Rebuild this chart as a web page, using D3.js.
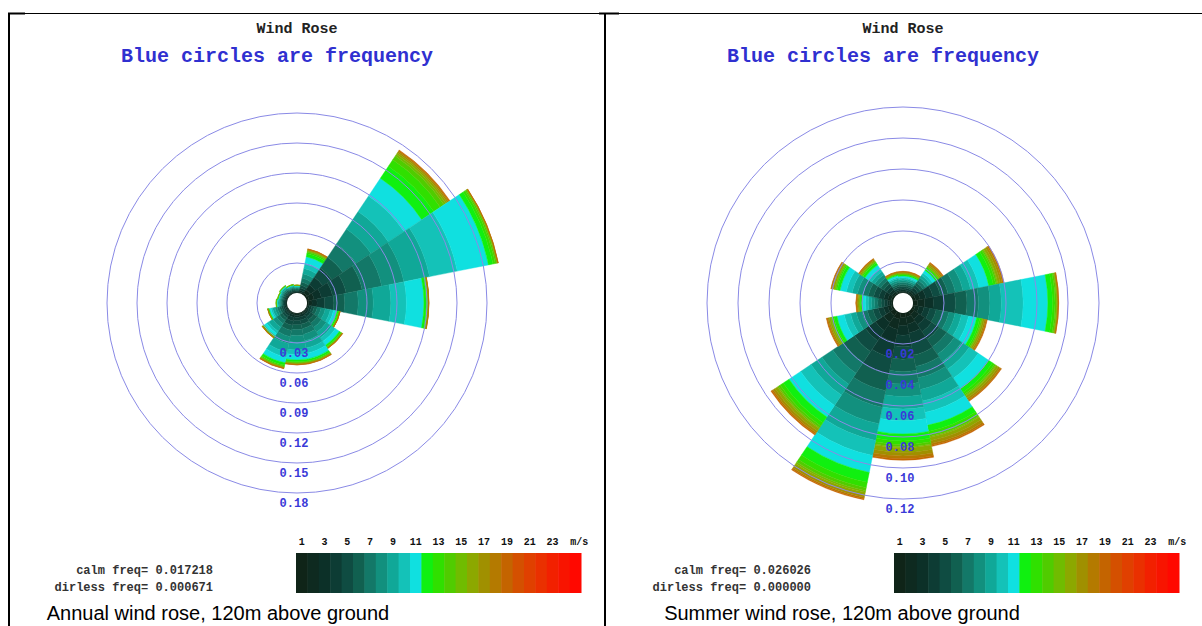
<!DOCTYPE html>
<html>
<head>
<meta charset="utf-8">
<script src="https://cdn.jsdelivr.net/npm/d3@7"></script>
<style>
body { margin: 0; background: #fff; }
svg { display: block; }
</style>
</head>
<body>
<svg id="chart" width="1202" height="626"></svg>
<script>
var directions = ["N", "NNE", "NE", "ENE", "E", "ESE", "SE", "SSE",
                  "S", "SSW", "SW", "WSW", "W", "WNW", "NW", "NNW"];

// 25 one m/s speed bins, 0-1 ... 24-25
var binColors = ["#0f2418", "#0e2a20", "#0c3028", "#0d3c34", "#0f4c42", "#116050",
                 "#137868", "#12907e", "#10a898", "#14c2b8", "#10e0e0",
                 "#10f010", "#30e000", "#50cc00", "#70bc00", "#8ca800", "#a09000",
                 "#b47a00", "#c46400", "#d45000", "#e04000", "#ea3000", "#f22000",
                 "#f81400", "#ff0800"];
var speedTicks = [1, 3, 5, 7, 9, 11, 13, 15, 17, 19, 21, 23];

// frequency per direction and speed bin, in thousandths
var annualFreq = [
    [0.3, 0.5, 0.6, 0.8, 0.9, 0.9, 0.9, 0.8, 0.8, 0.4, 0.4, 0.3, 0.1, 0.1, 0, 0.1, 0.1],
    [0.5, 1, 1.5, 2.3, 2.8, 3.3, 4, 4.5, 5.3, 5.6, 6.4, 3, 1.6, 0.9, 0.5, 0.7, 0.6, 0.4, 0.3],
    [2, 4, 6, 9, 11, 13, 16, 18, 21, 18.8, 21.2, 14.5, 7.8, 4.4, 2.3, 1.8, 1.5, 1, 0.7],
    [2.5, 5, 7.5, 11.3, 13.8, 16.3, 20, 22.5, 26.3, 28.2, 31.8, 4.5, 2.4, 1.4, 0.7, 0.4, 0.3, 0.2, 0.1],
    [1.7, 3.4, 5, 7.6, 9.2, 10.9, 13.4, 15.1, 17.6, 15.5, 17.5, 2.3, 1.2, 0.7, 0.3, 0.2, 0.1, 0.1, 0.1],
    [0.5, 1, 1.4, 2.2, 2.6, 3.1, 3.8, 4.3, 5.1, 3.3, 3.7, 1.3, 0.7, 0.3, 0.2, 0.2, 0.1, 0.1, 0.1],
    [0.6, 1.3, 1.9, 2.9, 3.5, 4.2, 5.1, 5.8, 6.7, 4.2, 4.8, 1.5, 0.8, 0.5, 0.2, 0.4, 0.3, 0.2, 0.1],
    [0.7, 1.4, 2.2, 3.2, 4, 4.7, 5.8, 6.5, 7.5, 5.2, 5.8, 1.8, 0.9, 0.5, 0.3, 0.5, 0.5, 0.3, 0.2],
    [0.7, 1.5, 2.2, 3.3, 4.1, 4.8, 5.9, 6.7, 7.8, 4.7, 5.3, 1.8, 0.9, 0.5, 0.3, 0.5, 0.5, 0.3, 0.2],
    [0.8, 1.6, 2.4, 3.6, 4.4, 5.2, 6.4, 7.2, 8.4, 5.2, 5.8, 2.3, 1.2, 0.7, 0.3, 0.5, 0.5, 0.3, 0.2],
    [0.6, 1.1, 1.5, 2.2, 2.6, 3.1, 3.8, 4.2, 4.9, 2.6, 2.9, 0.9, 0.5, 0.3, 0.1, 0.3, 0.2, 0.1, 0.1],
    [0.5, 0.9, 1.2, 1.6, 1.8, 2, 2.3, 2.3, 2.4, 1.6, 1.9, 0.6, 0.3, 0.1, 0.1, 0.2, 0.1, 0.1],
    [0.4, 0.7, 0.9, 1.1, 1.2, 1.2, 1.2, 1.1, 1.2, 0.6, 0.7, 0.3, 0.2, 0.1, 0, 0.1],
    [0.4, 0.7, 0.9, 1, 1.1, 1.1, 1.1, 1, 0.9, 0.6, 0.6, 0.3, 0.1, 0.1, 0, 0.1],
    [0.4, 0.7, 0.9, 1.1, 1.2, 1.2, 1.2, 1.1, 1.2, 0.6, 0.7, 0.3, 0.2, 0.1, 0, 0.1],
    [0.4, 0.6, 0.8, 0.9, 1, 1, 1, 0.9, 0.8, 0.5, 0.5, 0.3, 0.1, 0.1, 0, 0.1]
];

var summerFreq = [
    [0.5, 0.7, 0.9, 1.1, 1.2, 1.2, 1.2, 1.1, 1.1, 0.9, 1.1, 0.8, 0.4, 0.2, 0.1, 0.5, 0.5, 0.3, 0.2],
    [0.5, 0.7, 0.9, 1.1, 1.2, 1.2, 1.2, 1.1, 1.1, 0.9, 1.1, 0.8, 0.4, 0.2, 0.1, 0.5, 0.5, 0.3, 0.2],
    [0.8, 1.2, 1.5, 1.8, 2, 2, 1.9, 1.9, 1.9, 1.9, 2.1, 1.5, 0.8, 0.5, 0.2, 1.1, 0.9, 0.6, 0.4],
    [1.9, 3, 3.8, 4.6, 4.9, 4.9, 4.9, 5, 5, 5.6, 6.4, 3, 1.6, 0.9, 0.5, 1.5, 1.3, 0.8, 0.4],
    [2.9, 4.6, 5.7, 6.8, 7.4, 7.4, 7.4, 7.4, 7.4, 14.1, 15.9, 3, 1.6, 0.9, 0.5, 0.4, 0.3, 0.2, 0.1],
    [1.6, 2.6, 3.2, 3.8, 4.2, 4.2, 4.1, 4.1, 4.2, 4.7, 5.3, 2, 1.1, 0.6, 0.3, 1.1, 0.9, 0.6, 0.4],
    [2.3, 3.6, 4.5, 5.4, 5.8, 5.9, 5.8, 5.8, 5.9, 7, 8, 3, 1.6, 0.9, 0.5, 1.5, 1.3, 0.8, 0.4],
    [2.9, 4.6, 5.8, 7, 7.5, 7.5, 7.5, 7.6, 7.6, 7.5, 8.5, 4, 2.2, 1.2, 0.6, 2.2, 1.8, 1.3, 0.7],
    [3.1, 5, 6.2, 7.4, 8.1, 8, 8, 8.1, 8.1, 7.5, 8.5, 4.5, 2.4, 1.4, 0.7, 2.9, 2.4, 1.7, 1],
    [4.2, 6.7, 8.4, 10.1, 10.9, 10.9, 10.9, 10.9, 11, 9.9, 11.1, 6.5, 3.5, 2, 1, 1.8, 1.5, 1, 0.7],
    [3.3, 5.2, 6.5, 7.8, 8.4, 8.5, 8.4, 8.4, 8.5, 8, 9, 4.5, 2.4, 1.4, 0.7, 1.8, 1.5, 1, 0.7],
    [1.4, 2.2, 2.8, 3.4, 3.6, 3.7, 3.6, 3.6, 3.7, 4.2, 4.8, 2, 1.1, 0.6, 0.3, 1.1, 0.9, 0.6, 0.4],
    [0.8, 1.3, 1.6, 1.9, 2.1, 2.1, 2.1, 2, 2.1, 1.9, 2.1, 1, 0.5, 0.3, 0.2, 0.8, 0.6, 0.4, 0.2],
    [1.4, 2.2, 2.7, 3.2, 3.5, 3.5, 3.5, 3.5, 3.5, 3.8, 4.2, 1.8, 0.9, 0.5, 0.3, 1, 0.8, 0.5, 0.2],
    [0.9, 1.4, 1.8, 2.2, 2.3, 2.4, 2.3, 2.3, 2.4, 2.4, 2.6, 1.5, 0.8, 0.5, 0.2, 0.8, 0.6, 0.4, 0.2],
    [0.5, 0.8, 1, 1.1, 1.2, 1.2, 1.2, 1.2, 1.3, 0.9, 1.1, 0.7, 0.3, 0.2, 0.1, 0.4, 0.4, 0.3, 0.1]
];

var annualRings = [0.03, 0.06, 0.09, 0.12, 0.15, 0.18];
var summerRings = [0.02, 0.04, 0.06, 0.08, 0.10, 0.12];

var panels = [
    {left: 8, cx: 297, rMax: 190, rings: annualRings, freq: annualFreq,
     calm: "0.017218", dirless: "0.000671",
     caption: "Annual wind rose, 120m above ground", capX: 218},
    {left: 606, cx: 903, rMax: 196, rings: summerRings, freq: summerFreq,
     calm: "0.026026", dirless: "0.000000",
     caption: "Summer wind rose, 120m above ground", capX: 842}
];

var svg = d3.select("#chart");
var mono = "'Liberation Mono', 'DejaVu Sans Mono', monospace";
var cy = 303, hole = 10;

// frame lines
svg.append("line").attr("x1", 8).attr("x2", 1202).attr("y1", 13.5).attr("y2", 13.5)
    .attr("stroke", "#000").attr("stroke-width", 1);
[[8, 25], [599, 619]].forEach(function(s) {
    svg.append("line").attr("x1", s[0]).attr("x2", s[1]).attr("y1", 13.5).attr("y2", 13.5)
        .attr("stroke", "#000").attr("stroke-width", 2);
});
[9, 605].forEach(function(x) {
    svg.append("line").attr("x1", x).attr("x2", x).attr("y1", 13).attr("y2", 626)
        .attr("stroke", "#000").attr("stroke-width", 2);
});

var angle = d3.scaleBand()
    .domain(directions)
    .range([-Math.PI / 16, 2 * Math.PI - Math.PI / 16]);

panels.forEach(function(p) {
    var g = svg.append("g");
    var r = d3.scaleLinear()
        .domain([0, p.rings[p.rings.length - 1]])
        .range([hole, p.rMax]);

    g.append("text").attr("x", p.cx).attr("y", 33)
        .attr("text-anchor", "middle").attr("font-family", mono)
        .attr("font-weight", "bold").attr("font-size", 15).attr("fill", "#222")
        .text("Wind Rose");
    g.append("text").attr("x", p.cx - 20).attr("y", 62)
        .attr("text-anchor", "middle").attr("font-family", mono)
        .attr("font-weight", "bold").attr("font-size", 20).attr("fill", "#3030d0")
        .text("Blue circles are frequency");

    var rose = g.append("g").attr("transform", "translate(" + p.cx + "," + cy + ")");
    var arc = d3.arc();

    directions.forEach(function(dir, i) {
        var cum = 0;
        var bands = p.freq[i].map(function(v, b) {
            var d = {
                innerRadius: r(cum / 1000),
                outerRadius: r((cum + v) / 1000),
                startAngle: angle(dir),
                endAngle: angle(dir) + angle.bandwidth(),
                color: binColors[b]
            };
            cum += v;
            return d;
        }).filter(function(d) { return d.outerRadius > d.innerRadius; });
        rose.selectAll(null).data(bands).enter().append("path")
            .attr("d", arc)
            .attr("fill", function(d) { return d.color; })
            .attr("stroke", function(d) { return d.color; })
            .attr("stroke-width", 0.4);
    });

    rose.append("circle").attr("r", hole).attr("fill", "#fff");

    rose.selectAll(".ring").data(p.rings).enter().append("circle")
        .attr("class", "ring")
        .attr("r", function(d) { return r(d); })
        .attr("fill", "none").attr("stroke", "#8a8ae6").attr("stroke-width", 1);

    rose.selectAll(".rlab").data(p.rings).enter().append("text")
        .attr("class", "rlab")
        .attr("x", -3).attr("y", function(d) { return r(d) + 14; })
        .attr("text-anchor", "middle").attr("font-family", mono)
        .attr("font-weight", "bold").attr("font-size", 12).attr("fill", "#3a3ad8")
        .text(function(d) { return d.toFixed(2); });

    // colour bar
    var x0 = p.left + 288;
    var bx = d3.scaleBand().domain(d3.range(binColors.length)).range([x0, x0 + 285]);
    g.selectAll(".bin").data(binColors).enter().append("rect")
        .attr("x", function(d, i) { return bx(i); })
        .attr("y", 553).attr("width", bx.bandwidth() + 0.5).attr("height", 40)
        .attr("fill", function(d) { return d; });
    g.selectAll(".tick").data(speedTicks).enter().append("text")
        .attr("x", function(d) { return bx(d - 1) + bx.bandwidth() / 2; })
        .attr("y", 545).attr("text-anchor", "middle").attr("font-family", mono)
        .attr("font-weight", "bold").attr("font-size", 10).attr("fill", "#111")
        .text(function(d) { return d; });
    g.append("text").attr("x", bx(24) + bx.bandwidth() / 2 + 4).attr("y", 545)
        .attr("text-anchor", "middle").attr("font-family", mono)
        .attr("font-weight", "bold").attr("font-size", 10).attr("fill", "#111")
        .text("m/s");

    g.append("text").attr("x", p.left + 205).attr("y", 574)
        .attr("text-anchor", "end").attr("font-family", mono)
        .attr("font-weight", "bold").attr("font-size", 12).attr("fill", "#333")
        .text("calm freq= " + p.calm);
    g.append("text").attr("x", p.left + 205).attr("y", 591)
        .attr("text-anchor", "end").attr("font-family", mono)
        .attr("font-weight", "bold").attr("font-size", 12).attr("fill", "#333")
        .text("dirless freq= " + p.dirless);

    g.append("text").attr("x", p.capX).attr("y", 620)
        .attr("text-anchor", "middle").attr("font-family", "'Liberation Sans', Arial, sans-serif")
        .attr("font-size", 20).attr("fill", "#000")
        .text(p.caption);
});
</script>
</body>
</html>
